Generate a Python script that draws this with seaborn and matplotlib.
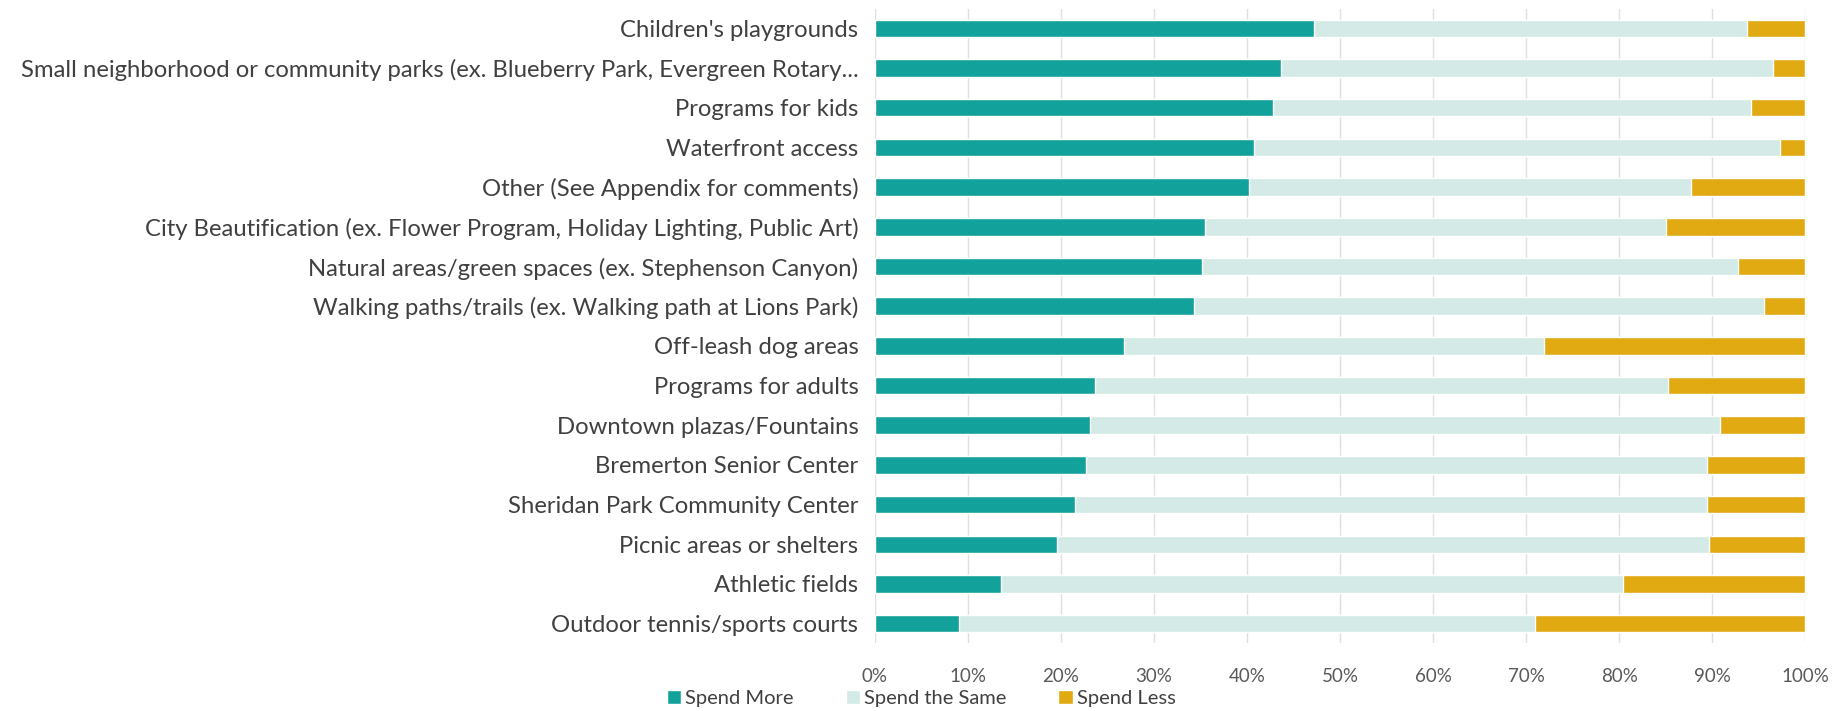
import pandas as pd
import numpy as np
import matplotlib.pyplot as plt
import seaborn as sns
from matplotlib.patches import Patch

# Survey data (percent of respondents)
categories = [
    "Children's playgrounds",
    "Small neighborhood or community parks (ex. Blueberry Park, Evergreen Rotary...",
    "Programs for kids",
    "Waterfront access",
    "Other (See Appendix for comments)",
    "City Beautification (ex. Flower Program, Holiday Lighting, Public Art)",
    "Natural areas/green spaces (ex. Stephenson Canyon)",
    "Walking paths/trails (ex. Walking path at Lions Park)",
    "Off-leash dog areas",
    "Programs for adults",
    "Downtown plazas/Fountains",
    "Bremerton Senior Center",
    "Sheridan Park Community Center",
    "Picnic areas or shelters",
    "Athletic fields",
    "Outdoor tennis/sports courts",
]
spend_more = [47.2, 43.6, 42.8, 40.8, 40.2, 35.5, 35.2, 34.3, 26.8, 23.7, 23.1, 22.7, 21.5, 19.6, 13.5, 9.0]
spend_same = [46.6, 52.9, 51.4, 56.5, 47.5, 49.5, 57.6, 61.3, 45.1, 61.6, 67.7, 66.7, 68.0, 70.1, 66.9, 62.0]
spend_less = [6.2, 3.5, 5.8, 2.7, 12.3, 15.0, 7.2, 4.4, 28.1, 14.7, 9.2, 10.6, 10.5, 10.3, 19.6, 29.0]

series = ["Spend More", "Spend the Same", "Spend Less"]
colors = ["#13a29b", "#d4eae6", "#e1a912"]

df = pd.DataFrame({"category": categories, "more": spend_more,
                   "same": spend_same, "less": spend_less})
df["cum_same"] = df["more"] + df["same"]
df["cum_less"] = df["cum_same"] + df["less"]

sns.set_style("white")
plt.rcParams["font.family"] = ["Lato", "DejaVu Sans"]

fig = plt.figure(figsize=(18.42, 7.11), dpi=100)
ax = fig.add_axes([0.475, 0.095, 0.505, 0.893])

# stacked bars drawn back to front
for col, c in zip(["cum_less", "cum_same", "more"], colors[::-1]):
    sns.barplot(data=df, x=col, y="category", color=c, width=0.44,
                saturation=1, orient="h", ax=ax, zorder=3)

ax.set_xlim(0, 100)
ax.set_xticks(np.arange(0, 101, 10))
ax.set_xticklabels([f"{v}%" for v in range(0, 101, 10)])
ax.xaxis.grid(True, color="#e0e0e0", linewidth=1, zorder=0)
ax.set_axisbelow(True)
ax.set_xlabel("")
ax.set_ylabel("")
for s in ax.spines.values():
    s.set_visible(False)
ax.tick_params(axis="both", length=0)
ax.tick_params(axis="y", labelsize=17.2, labelcolor="#404040", pad=12)
ax.tick_params(axis="x", labelsize=13.5, labelcolor="#595959", pad=18)

handles = [Patch(facecolor=c, label=s) for c, s in zip(colors, series)]
fig.legend(handles=handles, loc="lower center", bbox_to_anchor=(0.5, -0.02),
           ncol=3, frameon=False, fontsize=14.5, handlelength=0.7,
           handleheight=0.7, handletextpad=0.2, columnspacing=2.6,
           labelcolor="#404040")

fig.savefig("out.png", dpi=100, facecolor="white")
